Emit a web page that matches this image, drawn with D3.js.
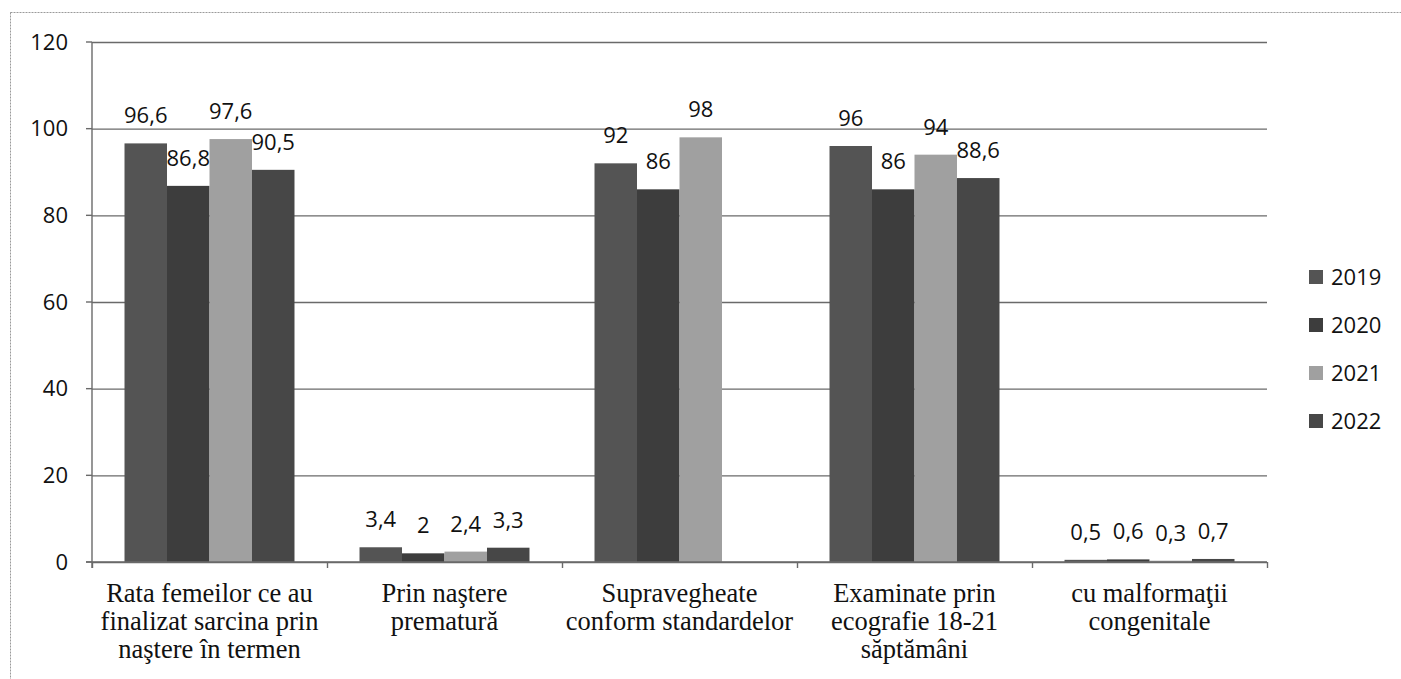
<!DOCTYPE html>
<html>
<head>
<meta charset="utf-8">
<script src="https://cdn.jsdelivr.net/npm/d3@7"></script>
<style>
  body { margin: 0; background: #fff; }
  svg { display: block; }
  .num { font-family: "Open Sans", sans-serif; font-size: 22px; fill: #111; }
  .cat { font-family: "Liberation Serif", "Times New Roman", serif; font-size: 26.5px; fill: #111; }
</style>
</head>
<body>
<script>
// categories, one array of text lines per group
let categories = [
  ['Rata femeilor ce au', 'finalizat sarcina prin', 'naştere în termen'],
  ['Prin naştere', 'prematură'],
  ['Supravegheate', 'conform standardelor'],
  ['Examinate prin', 'ecografie 18-21', 'săptămâni'],
  ['cu malformaţii', 'congenitale']
];
let years = ['2019', '2020', '2021', '2022'];

// one array per year, same order as categories (null = no bar)
let v2019 = [96.6, 3.4, 92, 96, 0.5];
let v2020 = [86.8, 2, 86, 86, 0.6];
let v2021 = [97.6, 2.4, 98, 94, 0.3];
let v2022 = [90.5, 3.3, null, 88.6, 0.7];
let series = [v2019, v2020, v2021, v2022];

let yTicks = [0, 20, 40, 60, 80, 100, 120];
let colors = ['#545454', '#3d3d3d', '#a0a0a0', '#474747'];

let width = 1401, height = 679;
let plot = { left: 92, right: 1267, top: 42, bottom: 562 };

let svg = d3.select('body').append('svg')
  .attr('width', width)
  .attr('height', height);

// outer frame
svg.append('rect')
  .attr('x', 10.5).attr('y', 12.5)
  .attr('width', width).attr('height', height)
  .attr('fill', 'none')
  .attr('stroke', '#9a9a9a')
  .attr('stroke-dasharray', '2,1');

let y = d3.scaleLinear()
  .domain([0, 120])
  .range([plot.bottom, plot.top]);

let x = d3.scaleBand()
  .domain(d3.range(categories.length))
  .range([plot.left, plot.right]);

let xYear = d3.scaleBand()
  .domain(years)
  .range([0, x.bandwidth()])
  .paddingInner(0)
  .paddingOuter(0.765);

let fmt = d3.formatLocale({ decimal: ',', thousands: '.', grouping: [3], currency: ['', ''] }).format('~g');

// gridlines + left axis
let yAxis = d3.axisLeft(y)
  .tickValues(yTicks)
  .tickSize(-(plot.right - plot.left))
  .tickPadding(24);

let yg = svg.append('g')
  .attr('transform', 'translate(' + plot.left + ',0)')
  .call(yAxis);
yg.select('.domain').remove();
yg.selectAll('.tick line').attr('stroke', '#6a6a6a').attr('stroke-width', 1.4);
yg.selectAll('.tick text').attr('class', 'num').attr('font-size', null).attr('font-family', null).attr('fill', null);

// small outward ticks on y axis
svg.append('g').selectAll('line')
  .data(yTicks)
  .join('line')
  .attr('x1', plot.left - 6).attr('x2', plot.left)
  .attr('y1', d => y(d)).attr('y2', d => y(d))
  .attr('stroke', '#6a6a6a').attr('stroke-width', 1.4);

// vertical axis line
svg.append('line')
  .attr('x1', plot.left).attr('x2', plot.left)
  .attr('y1', plot.top).attr('y2', plot.bottom + 6)
  .attr('stroke', '#6a6a6a').attr('stroke-width', 1.4);

// bars
let groups = svg.append('g').selectAll('g')
  .data(categories)
  .join('g')
  .attr('transform', (d, i) => 'translate(' + x(i) + ',0)');

groups.each(function (cat, ci) {
  let g = d3.select(this);
  let vals = years.map((yr, si) => ({ yr: yr, si: si, v: series[si][ci] }))
    .filter(d => d.v !== null);
  g.selectAll('rect')
    .data(vals)
    .join('rect')
    .attr('x', d => xYear(d.yr))
    .attr('y', d => y(d.v))
    .attr('width', xYear.bandwidth())
    .attr('height', d => y(0) - y(d.v))
    .attr('fill', d => colors[d.si]);
  g.selectAll('text')
    .data(vals)
    .join('text')
    .attr('class', 'num')
    .attr('text-anchor', 'middle')
    .attr('x', d => xYear(d.yr) + xYear.bandwidth() / 2)
    .attr('y', d => y(d.v) - 20)
    .text(d => fmt(d.v));
});

// bottom axis
let xAxis = d3.axisBottom(d3.scaleLinear().domain([0, categories.length]).range([plot.left, plot.right]))
  .ticks(categories.length)
  .tickSize(6)
  .tickFormat('');
let xg = svg.append('g')
  .attr('transform', 'translate(0,' + plot.bottom + ')')
  .call(xAxis);
xg.select('.domain').attr('stroke', '#6a6a6a').attr('stroke-width', 1.4)
  .attr('d', 'M' + (plot.left - 6) + ',0H' + plot.right);
xg.selectAll('.tick line').attr('stroke', '#6a6a6a').attr('stroke-width', 1.4);

// category labels
svg.append('g').selectAll('text')
  .data(categories)
  .join('text')
  .attr('class', 'cat')
  .attr('text-anchor', 'middle')
  .attr('transform', (d, i) => 'translate(' + (x(i) + x.bandwidth() / 2) + ',' + (plot.bottom + 40) + ')')
  .selectAll('tspan')
  .data(d => d)
  .join('tspan')
  .attr('x', 0)
  .attr('dy', (d, i) => i === 0 ? 0 : 28)
  .text(d => d);

// legend
let legend = svg.append('g').selectAll('g')
  .data(years)
  .join('g')
  .attr('transform', (d, i) => 'translate(1309,' + (277 + i * 48) + ')');
legend.append('rect')
  .attr('x', 0).attr('y', -7)
  .attr('width', 14).attr('height', 14)
  .attr('fill', (d, i) => colors[i]);
legend.append('text')
  .attr('class', 'num')
  .attr('x', 22)
  .attr('dy', '0.35em')
  .text(d => d);
</script>
</body>
</html>
